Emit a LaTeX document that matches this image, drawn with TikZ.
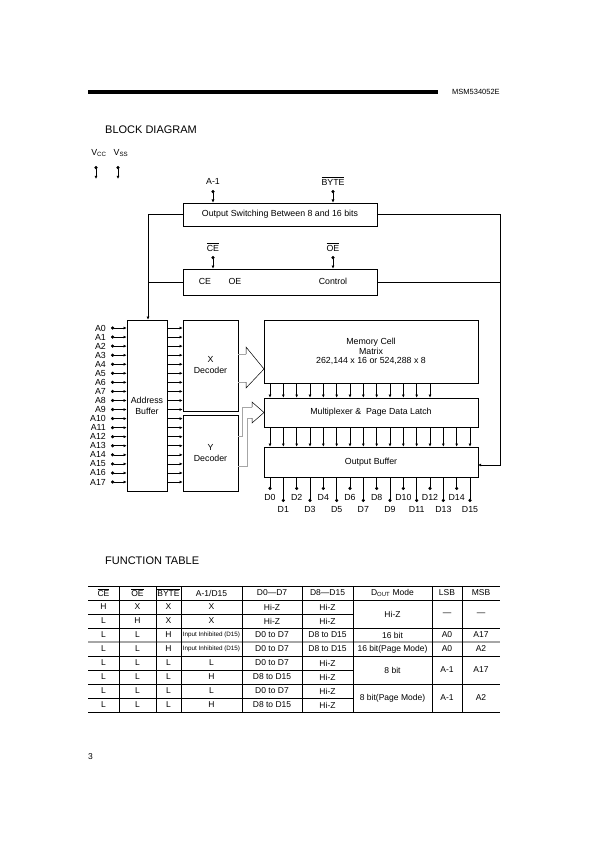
\documentclass[tikz,border=0pt]{standalone}
\usepackage{fontspec}
\setmainfont{Liberation Sans}
\usetikzlibrary{arrows.meta}
\newcommand\inhib{{\fontsize{6.3}{7}\selectfont Input Inhibited (D15)}}
\newcommand\ovl[1]{$\overline{\mbox{#1}}$}
\begin{document}
\begin{tikzpicture}[x=1pt,y=-1pt,
  box/.style={draw,line width=0.6pt,inner sep=0pt,align=center,font=\fontsize{8.8}{11}\selectfont},
  lbl/.style={inner sep=0pt,font=\fontsize{8.8}{10}\selectfont},
  tt/.style={inner sep=0pt,font=\fontsize{8.5}{10}\selectfont},
  ttl/.style={inner sep=0pt,anchor=west,font=\fontsize{11}{13}\selectfont},
  wire/.style={line width=0.6pt},
  pin/.style={wire,{Circle[length=3.2pt]}-{Latex[length=3.2pt,width=3pt]}},
  arr/.style={wire,-{Latex[length=3.2pt,width=3pt]}},
  dotend/.style={wire,-{Circle[length=3.2pt]}},
  shaft/.style={line width=0.9pt,draw=black!35},
  head/.style={line width=0.5pt,draw=black},
  rule/.style={line width=0.6pt},
]
\useasboundingbox (0,0) rectangle (595,842);

% header
\fill (88,90) rectangle (438,94);
\node[inner sep=0pt,anchor=west,font=\fontsize{7.5}{9}\selectfont] (pn) at (452,91.5) {MSM534052E};
\node[ttl] (bd) at (105,130) {BLOCK DIAGRAM};

% VCC VSS
\node[lbl] (vcc) at (99,153) {V\textsubscript{CC}};
\node[lbl] (vss) at (121,153) {V\textsubscript{SS}};
\coordinate (vcca) at (96,166); \coordinate (vccb) at (96,179);
\coordinate (vssa) at (118,166); \coordinate (vssb) at (118,179);
\draw[pin] (vcca) -- (vccb);
\draw[pin] (vssa) -- (vssb);

% boxes
\node[box,minimum width=194pt,minimum height=23pt] (osw) at (280,214.5) {Output Switching Between 8 and 16 bits};
\node[box,minimum width=194pt,minimum height=26pt] (ctrl) at (280,282) {};
\node[lbl] (ctce) at (205,281) {CE};
\node[lbl] (ctoe) at (235,281) {OE};
\node[lbl] (ctco) at (333,281) {Control};
\node[box,minimum width=40pt,minimum height=171pt] (ab) at (147,405.5) {Address\\Buffer};
\node[box,minimum width=55pt,minimum height=91pt] (xd) at (210.5,365.5) {X\\Decoder};
\node[box,minimum width=55pt,minimum height=76pt] (yd) at (210.5,453) {Y\\Decoder};
\node[box,minimum width=214pt,minimum height=63pt,font=\fontsize{8.8}{9.2}\selectfont] (mem) at (371,351.5) {Memory Cell\\Matrix\\262,144 x 16 or 524,288 x 8};
\node[box,minimum width=214pt,minimum height=29pt] (mux) at (371,412.5) {Multiplexer \&\ \ Page Data Latch};
\node[box,minimum width=214pt,minimum height=30pt] (ob) at (371,462) {Output Buffer};

% top inputs
\node[lbl] (la1) at (213,181) {A-1};
\node[lbl] (lbyte) at (333,181) {\ovl{BYTE}};
\node[lbl] (lce) at (213,247) {\ovl{CE}};
\node[lbl] (loe) at (333,247) {\ovl{OE}};
\coordinate (pa1) at (213,190);
\coordinate (pbyte) at (333,190);
\coordinate (pce) at (213,256);
\coordinate (poe) at (333,256);
\draw[pin] (pa1) -- (pa1 |- osw.north);
\draw[pin] (pbyte) -- (pbyte |- osw.north);
\draw[pin] (pce) -- (pce |- ctrl.north);
\draw[pin] (poe) -- (poe |- ctrl.north);

% loop lines
\coordinate (lx) at (148,0);
\coordinate (rx) at (500,0);
\coordinate (obin) at (478,465);
\draw[wire] (osw.west) -- (osw.west -| lx);
\draw[arr] (osw.west -| lx) -- (lx |- ab.north);
\draw[wire] (ctrl.west) -- (ctrl.west -| lx);
\draw[wire] (osw.east) -- (osw.east -| rx);
\draw[wire] (ctrl.east) -- (ctrl.east -| rx);
\draw[arr] (osw.east -| rx) -- (rx |- obin) -- (obin);

% address pins
\foreach \i in {0,...,17}{
  \pgfmathsetmacro\yy{328+9.06*\i}
  \node[lbl,anchor=east] (al\i) at (106,\yy) {A\i};
  \coordinate (ap\i) at (111,\yy);
  \draw[pin] (ap\i) -- (ap\i -| ab.west);
  \ifnum\i<10
    \draw[arr] (ap\i -| ab.east) -- (ap\i -| xd.west);
  \else
    \draw[arr] (ap\i -| ab.east) -- (ap\i -| yd.west);
  \fi
}

% memory -> mux
\foreach \k in {0,...,12}{
  \pgfmathsetmacro\xx{270+13.333*\k}
  \coordinate (mc\k) at (\xx,390);
  \draw[arr] (mc\k |- mem.south) -- (mc\k |- mux.north);
}
% mux -> output buffer, data pins
\foreach \k in {0,...,15}{
  \pgfmathsetmacro\xx{270+13.333*\k}
  \ifodd\k \def\yy{502}\def\ly{509.5}\else \def\yy{490}\def\ly{497.5}\fi
  \coordinate (oc\k) at (\xx,437);
  \coordinate (dp\k) at (\xx,\yy);
  \draw[arr] (oc\k |- mux.south) -- (oc\k |- ob.north);
  \draw[dotend] (oc\k |- ob.south) -- (dp\k);
  \node[lbl] (dl\k) at (\xx,\ly) {D\k};
}

% hollow arrows X decoder -> memory
\draw[shaft] (238,354) -- (246,354);
\draw[shaft] (238,382) -- (246,382);
\draw[head] (246,354) -- (246,347) -- (264,369) -- (246,388) -- (246,382);
% Y decoder -> multiplexer
\draw[shaft] (238,436) -- (242,436) -- (242,407) -- (252,407);
\draw[shaft] (238,466) -- (247,466) -- (247,418) -- (252,418);
\draw[head] (252,407) -- (252,402) -- (264,412.5) -- (252,423) -- (252,418);

% FUNCTION TABLE
\node[ttl] (ft) at (105,561) {FUNCTION TABLE};
\draw[rule] (88,586) -- (500,586);
\draw[rule] (88,600) -- (500,600);
\draw[rule] (88,614) -- (353,614);
\draw[rule] (88,628) -- (500,628);
\draw[line width=1.6pt,draw=black!35] (88,642) -- (500,642);
\draw[rule] (88,656) -- (500,656);
\draw[rule] (88,670) -- (353,670);
\draw[rule] (88,684) -- (500,684);
\draw[rule] (88,698) -- (353,698);
\draw[rule] (88,712) -- (500,712);
\foreach \cx in {119,156,181,242,302,353,432,462}{
  \draw[rule] (\cx,586) -- (\cx,712);
}
% header cells
\node[tt] (h1) at (103.5,593) {\ovl{CE}};
\node[tt] (h2) at (137.5,593) {\ovl{OE}};
\node[tt] (h3) at (168.5,593) {\ovl{BYTE}};
\node[tt] (h4) at (211.5,593) {A-1/D15};
\node[tt] (h5) at (272,593) {D0—D7};
\node[tt] (h6) at (327.5,593) {D8—D15};
\node[tt] (h7) at (392.5,593) {D\textsubscript{OUT} Mode};
\node[tt] (h8) at (447,593) {LSB};
\node[tt] (h9) at (481,593) {MSB};
% body cells
\foreach \r/\yy/\ca/\cb/\cc/\cd/\ce/\cf in {
  1/607/H/X/X/X/Hi-Z/Hi-Z,
  2/621/L/H/X/X/Hi-Z/Hi-Z,
  3/635/L/L/H/\inhib/D0 to D7/D8 to D15,
  4/649/L/L/H/\inhib/D0 to D7/D8 to D15,
  5/663/L/L/L/L/D0 to D7/Hi-Z,
  6/677/L/L/L/H/D8 to D15/Hi-Z,
  7/691/L/L/L/L/D0 to D7/Hi-Z,
  8/705/L/L/L/H/D8 to D15/Hi-Z}{
  \node[tt] (r\r c1) at (103.5,\yy) {\ca};
  \node[tt] (r\r c2) at (137.5,\yy) {\cb};
  \node[tt] (r\r c3) at (168.5,\yy) {\cc};
  \node[tt] (r\r c4) at (211.5,\yy) {\cd};
  \node[tt] (r\r c5) at (272,\yy) {\ce};
  \node[tt] (r\r c6) at (327.5,\yy) {\cf};
}
\node[tt] (m1a) at (392.5,614) {Hi-Z};
\node[tt] (m1b) at (447,614) {—};
\node[tt] (m1c) at (481,614) {—};
\node[tt] (m3a) at (392.5,635) {16 bit};
\node[tt] (m3b) at (447,635) {A0};
\node[tt] (m3c) at (481,635) {A17};
\node[tt] (m4a) at (392.5,649) {16 bit(Page Mode)};
\node[tt] (m4b) at (447,649) {A0};
\node[tt] (m4c) at (481,649) {A2};
\node[tt] (m5a) at (392.5,670) {8 bit};
\node[tt] (m5b) at (447,670) {A-1};
\node[tt] (m5c) at (481,670) {A17};
\node[tt] (m7a) at (392.5,698) {8 bit(Page Mode)};
\node[tt] (m7b) at (447,698) {A-1};
\node[tt] (m7c) at (481,698) {A2};

\node[tt,anchor=west] (pg) at (88,757) {3};
\end{tikzpicture}
\end{document}
